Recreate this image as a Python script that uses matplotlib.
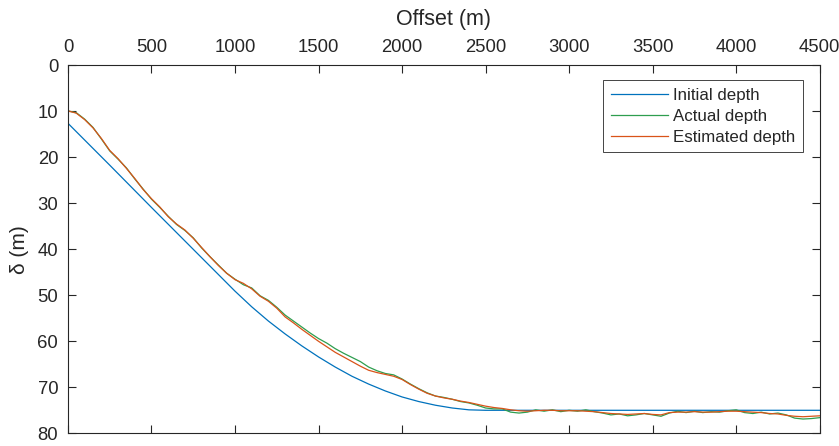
import numpy as np
import matplotlib
matplotlib.use('Agg')
import matplotlib.pyplot as plt

plt.rcParams['font.family'] = ['Liberation Sans', 'DejaVu Sans']

# initial depth model (smooth)
x_init = [0, 250, 500, 750, 1000, 1100, 1200, 1300, 1400, 1500, 1600, 1700,
          1800, 1900, 2000, 2100, 2200, 2300, 2400, 2500, 3000, 3500, 4000, 4500]
d_init = [12.6, 21.7, 30.9, 40.0, 49.1, 52.5, 55.6, 58.4, 61.0, 63.4, 65.6, 67.6,
          69.3, 70.8, 72.1, 73.1, 73.9, 74.5, 74.9, 75.0, 75.0, 75.0, 75.0, 75.0]

# actual depth, read every 50 m
x_act = np.arange(0, 4501, 50)
d_act = [9.9, 10.3, 11.7, 13.5, 16.0, 18.6, 20.4, 22.3, 24.7, 26.9,
         29.1, 30.9, 32.8, 34.6, 35.9, 37.5, 39.7, 41.6, 43.4, 45.2,
         46.5, 47.7, 48.4, 50.1, 51.1, 52.6, 54.3, 55.6, 56.9, 58.2,
         59.4, 60.4, 61.6, 62.6, 63.5, 64.4, 65.6, 66.4, 67.0, 67.3,
         68.2, 69.3, 70.3, 71.2, 71.9, 72.2, 72.6, 73.1, 73.4, 73.9,
         74.5, 74.7, 74.7, 75.4, 75.6, 75.4, 74.9, 75.2, 74.9, 75.3,
         75.0, 75.2, 74.9, 75.3, 75.6, 76.0, 75.8, 76.2, 76.0, 75.7,
         76.0, 76.3, 75.6, 75.2, 75.5, 75.2, 75.5, 75.3, 75.4, 75.1,
         74.9, 75.5, 75.7, 75.4, 75.8, 75.6, 76.0, 76.7, 76.9, 76.8,
         76.6]

# estimated depth, read every 50 m
x_est = np.arange(0, 4501, 50)
d_est = [9.9, 10.4, 11.8, 13.6, 15.9, 18.5, 20.3, 22.4, 24.6, 27.0,
         29.0, 30.8, 32.9, 34.5, 35.8, 37.6, 39.6, 41.6, 43.5, 45.2,
         46.6, 47.4, 48.6, 50.2, 51.3, 52.8, 54.7, 56.0, 57.4, 58.7,
         60.0, 61.2, 62.4, 63.4, 64.4, 65.4, 66.3, 66.8, 67.2, 67.6,
         68.3, 69.4, 70.4, 71.3, 71.9, 72.3, 72.6, 73.0, 73.3, 73.7,
         74.1, 74.4, 74.6, 74.9, 75.1, 75.2, 75.1, 75.0, 75.0, 75.1,
         75.1, 75.1, 75.2, 75.3, 75.5, 75.7, 75.8, 75.9, 75.8, 75.7,
         75.9, 76.0, 75.5, 75.4, 75.4, 75.3, 75.4, 75.4, 75.3, 75.2,
         75.2, 75.3, 75.4, 75.5, 75.7, 75.8, 76.1, 76.3, 76.4, 76.3,
         76.2]

txt = '#262626'
fig = plt.figure(figsize=(8.39, 4.46), dpi=100)
ax = fig.add_axes([0.081, 0.0285, 0.896, 0.825])

ax.plot(x_init, d_init, color='#0072BD', lw=0.9, label='Initial depth')
ax.plot(x_act, d_act, color='#2E9E4F', lw=0.9, label='Actual depth')
ax.plot(x_est, d_est, color='#D95319', lw=0.9, label='Estimated depth')

ax.set_xlim(0, 4500)
ax.set_ylim(80, 0)
ax.set_xticks(range(0, 4501, 500))
ax.set_yticks(range(0, 81, 10))
ax.xaxis.set_label_position('top')
ax.tick_params(axis='both', direction='in', length=6, width=0.8, colors=txt,
               labelsize=13.3, top=True, right=True, bottom=True,
               labeltop=True, labelbottom=False)
ax.tick_params(axis='x', pad=7)
ax.tick_params(axis='y', pad=7)
ax.set_xlabel('Offset (m)', fontsize=15.5, color=txt, labelpad=10)
ax.set_ylabel('δ (m)', fontsize=15, color=txt, labelpad=6)
for s in ax.spines.values():
    s.set_color(txt)
    s.set_linewidth(0.8)

leg = ax.legend(loc='upper right', bbox_to_anchor=(0.978, 0.96), borderaxespad=0,
                fontsize=12.2, fancybox=False, edgecolor=txt, framealpha=1,
                handlelength=3.4, handletextpad=0.3, labelspacing=0.35,
                borderpad=0.45)
leg.get_frame().set_linewidth(0.6)
for t in leg.get_texts():
    t.set_color(txt)

fig.savefig('out.png', dpi=100)
